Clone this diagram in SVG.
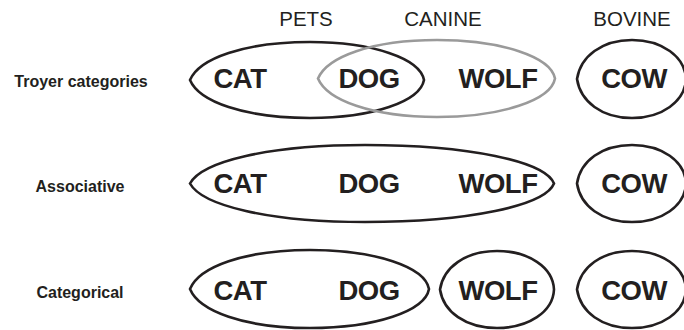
<svg xmlns="http://www.w3.org/2000/svg" width="684" height="330" viewBox="0 0 684 330">
<style>
.bg{fill:#fff}
.sh{fill:none;stroke:#231f20;stroke-width:2.6}
.gr{fill:none;stroke:#9a9a9a;stroke-width:2.6}
.w{font-family:"Liberation Sans",Arial,sans-serif;font-weight:bold;font-size:27.5px;fill:#231f20;text-anchor:middle;letter-spacing:-0.5px}
.h{font-family:"Liberation Sans",Arial,sans-serif;font-size:20.5px;fill:#231f20;text-anchor:middle}
.r{font-family:"Liberation Sans",Arial,sans-serif;font-weight:bold;font-size:16px;fill:#231f20;text-anchor:middle}
</style>
<rect class="bg" width="684" height="330"/>
<g id="headers">
<text class="h" x="306" y="26">PETS</text>
<text class="h" x="443" y="26">CANINE</text>
<text class="h" x="632" y="26">BOVINE</text>
</g>
<g id="row-labels">
<text class="r" x="81" y="87">Troyer categories</text>
<text class="r" x="80" y="192">Associative</text>
<text class="r" x="80" y="298">Categorical</text>
</g>
<g id="row1">
<g id="r1-pets"><path class="sh" d="M190,80 C199,58.5 244,42 310,42 C372.7,42 420,58.5 424,80 C420,101.5 372.7,118 310,118 C244,118 199,101.5 190,80Z"/></g>
<g id="r1-canine"><path class="gr" d="M318,78.5 C327,57 371.5,40 437,40 C501.9,40 551,57 555,78.5 C551,100 501.9,117 437,117 C371.5,117 327,100 318,78.5Z"/></g>
<g id="r1-bovine"><path class="sh" d="M577,79 C580.5,56.5 601.8,40 632,40 C661.7,40 685,56.5 686,79 C685,101.5 661.7,118 632,118 C601.8,118 580.5,101.5 577,79Z"/></g>
<text class="w" x="240" y="88">CAT</text>
<text class="w" x="369" y="88">DOG</text>
<text class="w" x="498" y="88">WOLF</text>
<text class="w" x="634" y="88">COW</text>
</g>
<g id="row2">
<g id="r2-assoc"><path class="sh" d="M190,183.5 C202,161.5 268.7,145 365,145 C469,145 545,161.5 554,183.5 C545,205.5 469,222 365,222 C268.7,222 202,205.5 190,183.5Z"/></g>
<g id="r2-bovine"><path class="sh" d="M577,183.5 C580.5,161 601.8,145 632,145 C661.7,145 685,161 686,183.5 C685,206 661.7,222 632,222 C601.8,222 580.5,206 577,183.5Z"/></g>
<text class="w" x="240" y="193">CAT</text>
<text class="w" x="369" y="193">DOG</text>
<text class="w" x="498" y="193">WOLF</text>
<text class="w" x="634" y="193">COW</text>
</g>
<g id="row3">
<g id="r3-catdog"><path class="sh" d="M190,289 C199,267 244,250 310,250 C375.5,250 425,267 429,289 C425,311 375.5,328 310,328 C244,328 199,311 190,289Z"/></g>
<g id="r3-wolf"><path class="sh" d="M440,289.5 C443.5,267 465.6,251 497,251 C528.4,251 553,267 554,289.5 C553,312 528.4,328 497,328 C465.6,328 443.5,312 440,289.5Z"/></g>
<g id="r3-bovine"><path class="sh" d="M577,289.5 C580.5,267 601.8,251 632,251 C661.7,251 685,267 686,289.5 C685,312 661.7,328 632,328 C601.8,328 580.5,312 577,289.5Z"/></g>
<text class="w" x="240" y="300">CAT</text>
<text class="w" x="369" y="300">DOG</text>
<text class="w" x="498" y="300">WOLF</text>
<text class="w" x="634" y="300">COW</text>
</g>
</svg>
